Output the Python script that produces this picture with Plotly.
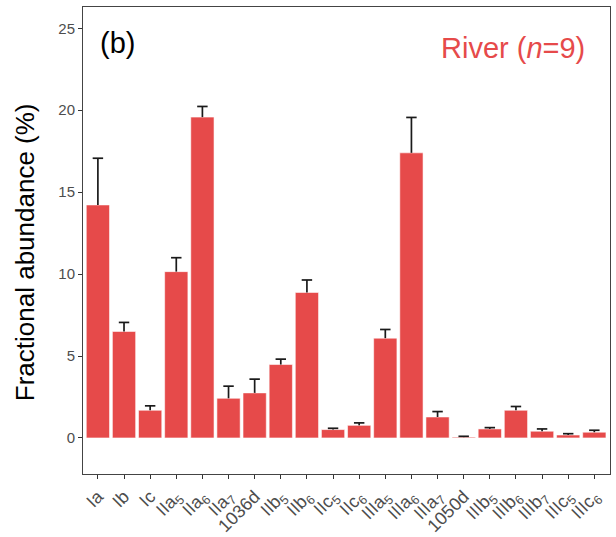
import plotly.graph_objects as go

categories = ["Ia", "Ib", "Ic", "IIa5", "IIa6", "IIa7", "1036d", "IIb5", "IIb6", "IIc5",
              "IIc6", "IIIa5", "IIIa6", "IIIa7", "1050d", "IIIb5", "IIIb6", "IIIb7", "IIIc5", "IIIc6"]
tick_labels = ["Ia", "Ib", "Ic", "IIa<sub>5</sub>", "IIa<sub>6</sub>", "IIa<sub>7</sub>", "1036d",
               "IIb<sub>5</sub>", "IIb<sub>6</sub>", "IIc<sub>5</sub>", "IIc<sub>6</sub>",
               "IIIa<sub>5</sub>", "IIIa<sub>6</sub>", "IIIa<sub>7</sub>", "1050d",
               "IIIb<sub>5</sub>", "IIIb<sub>6</sub>", "IIIb<sub>7</sub>", "IIIc<sub>5</sub>", "IIIc<sub>6</sub>"]
means = [14.22, 6.50, 1.69, 10.15, 19.58, 2.42, 2.75, 4.48, 8.88, 0.51,
         0.77, 6.09, 17.40, 1.28, 0.05, 0.55, 1.69, 0.41, 0.18, 0.35]
errors = [2.85, 0.55, 0.27, 0.85, 0.65, 0.74, 0.84, 0.33, 0.76, 0.08,
          0.15, 0.53, 2.16, 0.33, 0.05, 0.08, 0.23, 0.14, 0.08, 0.12]
y_ticks = [0, 5, 10, 15, 20, 25]

bar_color = "#E64A4A"
cap_half = 0.2  # cap half-width in category units

idx = list(range(len(categories)))

# upper-only error bars with a cap at the top only
ex, ey = [], []
for i, m, e in zip(idx, means, errors):
    ex += [i, i, None, i - cap_half, i + cap_half, None]
    ey += [m, m + e, None, m + e, m + e, None]

fig = go.Figure()
fig.add_trace(go.Bar(
    x=idx, y=means,
    marker=dict(color=bar_color, line=dict(color="rgba(255,255,255,0.7)", width=0.8)),
    width=0.89,
))
fig.add_trace(go.Scatter(
    x=ex, y=ey, mode="lines",
    line=dict(color="#1a1a1a", width=1.7),
    hoverinfo="skip",
))

fig.update_layout(
    width=616, height=537,
    margin=dict(l=83, r=6, t=7, b=63),
    plot_bgcolor="white", paper_bgcolor="white",
    showlegend=False,
    font=dict(family="Liberation Sans, Arial, sans-serif"),
)
fig.update_xaxes(
    tickmode="array", tickvals=idx, ticktext=tick_labels,
    tickangle=-45, tickfont=dict(size=18, color="#4D4D4D"),
    range=[-0.57, 19.6], automargin=False,
    showline=True, linecolor="#444444", linewidth=1, mirror=True,
    ticks="outside", ticklen=4, tickcolor="#333333", showgrid=False, zeroline=False,
)
fig.update_yaxes(
    range=[-2.2, 26.3], automargin=False,
    tickmode="array", tickvals=y_ticks,
    tickfont=dict(size=15, color="#4D4D4D"),
    showline=True, linecolor="#444444", linewidth=1, mirror=True,
    ticks="outside", ticklen=4, tickcolor="#333333", showgrid=False, zeroline=False,
)
fig.add_annotation(text="Fractional abundance (%)", xref="paper", yref="paper",
                   x=-0.11, y=0.475, xanchor="center", yanchor="middle", textangle=-90,
                   showarrow=False, font=dict(size=26, color="black"))
fig.add_annotation(text="(b)", xref="paper", yref="paper", x=0.065, y=0.923,
                   xanchor="center", yanchor="middle", showarrow=False,
                   font=dict(size=29, color="black"))
fig.add_annotation(text="River (<i>n</i>=9)", xref="paper", yref="paper", x=0.956, y=0.912,
                   xanchor="right", yanchor="middle", showarrow=False,
                   font=dict(size=29, color=bar_color))

fig.write_html("out.html", config={"displayModeBar": False},
               post_script="document.body.style.margin='0';document.body.style.padding='0';")
